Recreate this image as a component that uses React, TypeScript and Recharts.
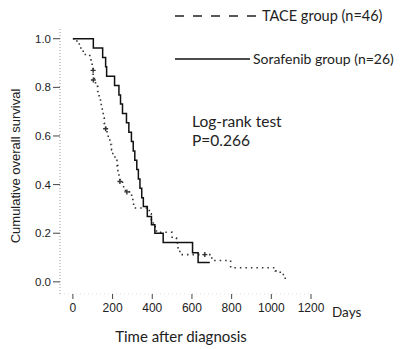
import React from 'react';
import { ComposedChart, Line, Scatter, XAxis, YAxis } from 'recharts';

const xTicks = [0, 200, 400, 600, 800, 1000, 1200];
const yTicks = [0, 0.2, 0.4, 0.6, 0.8, 1.0];

const sorafenibDays = [0, 103, 150, 165, 170, 210, 232, 240, 250, 270, 282, 295, 304, 312, 322, 330, 338, 347, 355, 375, 396, 413, 455, 603, 631, 690];
const sorafenibSurv = [1.0, 0.962, 0.923, 0.885, 0.846, 0.808, 0.769, 0.731, 0.692, 0.654, 0.615, 0.577, 0.538, 0.5, 0.462, 0.423, 0.385, 0.346, 0.31, 0.269, 0.235, 0.2, 0.162, 0.12, 0.08, 0.08];

const taceDays = [0, 20, 40, 52, 85, 97, 102, 108, 114, 125, 132, 139, 143, 148, 153, 158, 165, 172, 178, 186, 195, 201, 212, 222, 227, 232, 237, 250, 265, 296, 302, 306, 385, 395, 405, 421, 500, 522, 529, 539, 700, 795, 1020, 1045, 1065, 1075];
const taceSurv = [1.0, 0.978, 0.957, 0.935, 0.913, 0.891, 0.848, 0.826, 0.804, 0.783, 0.761, 0.739, 0.717, 0.696, 0.674, 0.652, 0.63, 0.609, 0.587, 0.565, 0.543, 0.522, 0.5, 0.478, 0.457, 0.435, 0.413, 0.391, 0.37, 0.348, 0.326, 0.304, 0.28, 0.25, 0.227, 0.204, 0.18, 0.16, 0.14, 0.112, 0.088, 0.058, 0.045, 0.03, 0.015, 0.0];

const taceCensorDays = [102, 103, 165, 237, 272, 665];
const taceCensorSurv = [0.87, 0.83, 0.63, 0.413, 0.37, 0.112];

const legendLabels = ['TACE group (n=46)', 'Sorafenib group (n=26)'];
const testLabels = ['Log-rank test', 'P=0.266'];
const xLabel = 'Time after diagnosis';
const xUnit = 'Days';
const yLabel = 'Cumulative overall survival';

const sorafenib = sorafenibDays.map((t, i) => ({ t, s: sorafenibSurv[i] }));
const tace = taceDays.map((t, i) => ({ t, s: taceSurv[i] }));
const taceCensor = taceCensorDays.map((t, i) => ({ t, s: taceCensorSurv[i] }));

const textFont = 'Lato, "Liberation Sans", sans-serif';
const tickFont = '"Liberation Sans", Arial, sans-serif';

const Plus = (props: any) => {
  const { cx, cy } = props;
  if (cx == null || cy == null) return null;
  return (
    <path d={`M${cx - 2.5},${cy}H${cx + 2.5}M${cx},${cy - 2.5}V${cy + 2.5}`} stroke="#333" strokeWidth={1.4} />
  );
};

export default function App() {
  return (
    <div style={{ position: 'absolute', left: 0, top: 0, width: 412, height: 349, background: '#fff' }}>
      <ComposedChart width={412} height={349} margin={{ top: 29, right: 101, bottom: 0, left: 0 }}>
        <XAxis
          type="number"
          dataKey="t"
          domain={[-65, 1200]}
          ticks={xTicks}
          allowDataOverflow
          height={55}
          tickSize={5}
          tickMargin={4}
          axisLine={{ stroke: '#ddd', strokeDasharray: '1 3' }}
          tickLine={{ stroke: '#444' }}
          tick={{ fontFamily: tickFont, fontSize: 12, fill: '#222' }}
        />
        <YAxis
          type="number"
          dataKey="s"
          domain={[-0.05, 1.04]}
          ticks={yTicks}
          allowDataOverflow
          width={60}
          tickSize={7}
          tickMargin={2}
          tickFormatter={(v: number) => v.toFixed(1)}
          axisLine={{ stroke: '#999', strokeDasharray: '1 2' }}
          tickLine={{ stroke: '#444' }}
          tick={{ fontFamily: tickFont, fontSize: 11.5, fill: '#222' }}
        />
        <Line
          data={tace}
          dataKey="s"
          type="stepAfter"
          stroke="#333"
          strokeWidth={1.6}
          strokeDasharray="1.5 4"
          dot={false}
          activeDot={false}
          isAnimationActive={false}
        />
        <Line
          data={sorafenib}
          dataKey="s"
          type="stepAfter"
          stroke="#111"
          strokeWidth={1.5}
          dot={false}
          activeDot={false}
          isAnimationActive={false}
        />
        <Scatter data={taceCensor} dataKey="s" shape={Plus} isAnimationActive={false} />
      </ComposedChart>
      <svg width={412} height={349} style={{ position: 'absolute', left: 0, top: 0, pointerEvents: 'none' }}>
        <line x1={175} y1={16} x2={259} y2={16} stroke="#222" strokeWidth={1.5} strokeDasharray="9 9" />
        <text x={262} y={20.5} fontFamily={textFont} fontSize={14.5} fill="#222">{legendLabels[0]}</text>
        <line x1={175} y1={59} x2={250} y2={59} stroke="#111" strokeWidth={1.5} />
        <text x={253} y={64} fontFamily={textFont} fontSize={14} fill="#222">{legendLabels[1]}</text>
        <text x={192} y={127} fontFamily={textFont} fontSize={15.5} fill="#222">{testLabels[0]}</text>
        <text x={192} y={146} fontFamily={textFont} fontSize={15.5} fill="#222">{testLabels[1]}</text>
        <text x={332} y={317} fontFamily={textFont} fontSize={13.5} fill="#222">{xUnit}</text>
        <text x={181} y={342} textAnchor="middle" fontFamily={textFont} fontSize={15} fill="#222">{xLabel}</text>
        <text x={20} y={166} textAnchor="middle" transform="rotate(-90 20 166)" fontFamily={tickFont} fontSize={13} fill="#222">{yLabel}</text>
      </svg>
    </div>
  );
}
